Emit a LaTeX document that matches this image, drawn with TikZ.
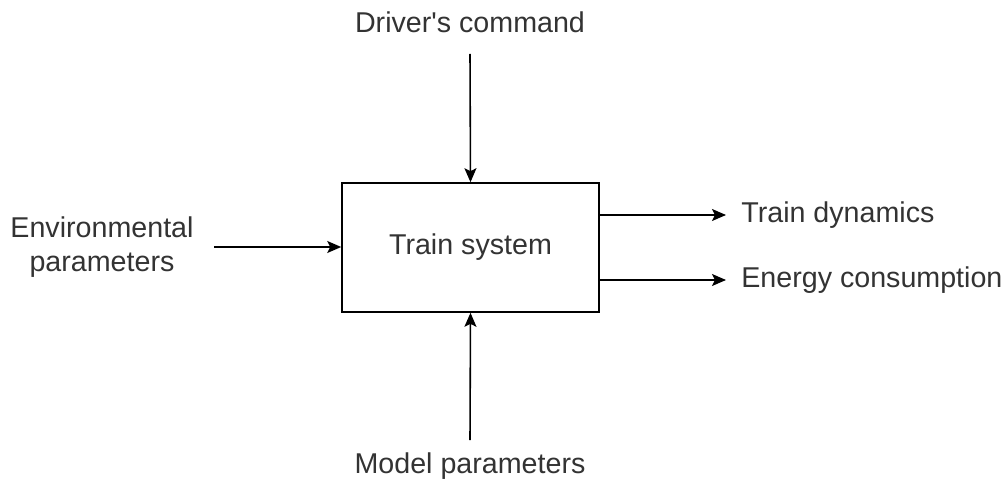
\documentclass[tikz,border=0pt]{standalone}
\usepackage{fontspec}
\setmainfont{Liberation Sans}
\usepackage{tikz}
\usetikzlibrary{arrows.meta}
\usetikzlibrary{positioning}

\tikzset{
	label text/.style={text=black!80,font=\fontsize{16.3}{19.8}\selectfont,inner sep=0pt,align=center},
	block/.style={draw,line width=0.9pt,minimum width=5.14cm,minimum height=2.58cm,label text},
	flow/.style={line width=0.9pt,-{Stealth[length=0.28cm,width=0.24cm,inset=0.06cm]}}
}

\begin{document}
\begin{tikzpicture}
		\useasboundingbox (0,0) rectangle (20.12,9.78);

		% draw the system box
		\node (train) at (9.41,4.83) [block] {Train system};

		% draw inputs and outputs
		\node (driver) at (9.40,9.34) [label text] {Driver\textquotesingle s command};
		\node (env) at (2.04,4.84) [label text] {Environmental\\parameters};
		\node (model) at (9.40,0.46) [label text] {Model parameters};
		\node (dyn) at (14.82,5.48) [label text,anchor=west] {Train dynamics};
		\node (energy) at (14.82,4.18) [label text,anchor=west] {Energy consumption};

		% free ends of the arrows
		\coordinate (driver-end) at (9.40,8.70);
		\coordinate (env-end) at (4.28,4.84);
		\coordinate (model-end) at (9.40,0.98);
		\coordinate (dyn-end) at (14.52,5.48);
		\coordinate (energy-end) at (14.52,4.18);

		% draw arrows into the box
		\draw[flow] (driver-end) to (train.north);
		\draw[flow] (env-end) to (train.west |- env-end);
		\draw[flow] (model-end) to (train.south);

		% draw arrows out of the box
		\draw[flow] (train.east |- dyn-end) to (dyn-end);
		\draw[flow] (train.east |- energy-end) to (energy-end);
	\end{tikzpicture}
\end{document}
